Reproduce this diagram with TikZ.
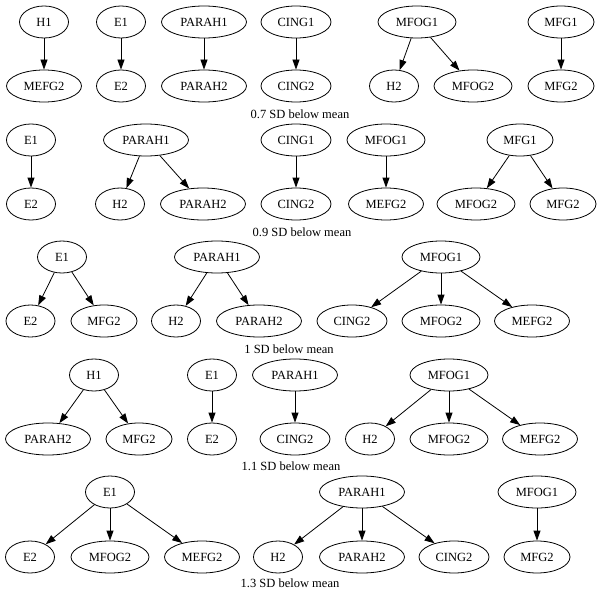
\documentclass[tikz,border=0pt]{standalone}
\usepackage{fontspec}
\setmainfont{Liberation Serif}
\usetikzlibrary{arrows.meta,shapes.geometric}
\begin{document}
\begin{tikzpicture}[x=1pt,y=-1pt,
  gv/.style={ellipse,draw,line width=0.8pt,minimum height=32pt,inner sep=0pt,font=\fontsize{12.5}{14}\selectfont},
  wS/.style={gv,minimum width=49pt},
  wMFG/.style={gv,minimum width=66pt},
  wCING/.style={gv,minimum width=70pt},
  wMEFG/.style={gv,minimum width=75pt},
  wMFOG/.style={gv,minimum width=78pt},
  wPARAH/.style={gv,minimum width=85pt},
  arr/.style={draw,line width=0.8pt,-{Triangle[length=10pt,width=7pt]}},
  lbl/.style={inner sep=0pt,font=\fontsize{12.5}{14}\selectfont}
]
\useasboundingbox (0,0) rectangle (603,594);

% ---------- Row 1: 0.7 SD ----------
\node[wS]     (a1) at (44,22)  {H1};
\node[wMEFG]  (a2) at (44,86)  {MEFG2};
\node[wS]     (a3) at (121,22) {E1};
\node[wS]     (a4) at (121,86) {E2};
\node[wPARAH] (a5) at (204,22) {PARAH1};
\node[wPARAH] (a6) at (204,86) {PARAH2};
\node[wCING]  (a7) at (296,22) {CING1};
\node[wCING]  (a8) at (296,86) {CING2};
\node[wMFOG]  (a9) at (417,22) {MFOG1};
\node[wS]     (a10) at (394,86) {H2};
\node[wMFOG]  (a11) at (473,86) {MFOG2};
\node[wMFG]   (a12) at (561,22) {MFG1};
\node[wMFG]   (a13) at (561,86) {MFG2};
\draw[arr] (a1) -- (a2);
\draw[arr] (a3) -- (a4);
\draw[arr] (a5) -- (a6);
\draw[arr] (a7) -- (a8);
\draw[arr] (a9) -- (a10);
\draw[arr] (a9) -- (a11);
\draw[arr] (a12) -- (a13);
\node[lbl] (la) at (300,114) {0.7 SD below mean};

% ---------- Row 2: 0.9 SD ----------
\node[wS]     (b1) at (31,140)  {E1};
\node[wS]     (b2) at (31,204)  {E2};
\node[wPARAH] (b3) at (146,140) {PARAH1};
\node[wS]     (b4) at (120,204) {H2};
\node[wPARAH] (b5) at (203,204) {PARAH2};
\node[wCING]  (b6) at (296,140) {CING1};
\node[wCING]  (b7) at (296,204) {CING2};
\node[wMFOG]  (b8) at (386,140) {MFOG1};
\node[wMEFG]  (b9) at (386,204) {MEFG2};
\node[wMFG]   (b10) at (520,140) {MFG1};
\node[wMFOG]  (b11) at (476,204) {MFOG2};
\node[wMFG]   (b12) at (563,204) {MFG2};
\draw[arr] (b1) -- (b2);
\draw[arr] (b3) -- (b4);
\draw[arr] (b3) -- (b5);
\draw[arr] (b6) -- (b7);
\draw[arr] (b8) -- (b9);
\draw[arr] (b10) -- (b11);
\draw[arr] (b10) -- (b12);
\node[lbl] (lb) at (302,232) {0.9 SD below mean};

% ---------- Row 3: 1 SD ----------
\node[wS]     (c1) at (62,257)   {E1};
\node[wS]     (c2) at (30.5,321) {E2};
\node[wMFG]   (c3) at (104,321)  {MFG2};
\node[wPARAH] (c4) at (217,257)  {PARAH1};
\node[wS]     (c5) at (176,321)  {H2};
\node[wPARAH] (c6) at (259,321)  {PARAH2};
\node[wMFOG]  (c7) at (441,257)  {MFOG1};
\node[wCING]  (c8) at (352,321)  {CING2};
\node[wMFOG]  (c9) at (441,321)  {MFOG2};
\node[wMEFG]  (c10) at (532,321) {MEFG2};
\draw[arr] (c1) -- (c2);
\draw[arr] (c1) -- (c3);
\draw[arr] (c4) -- (c5);
\draw[arr] (c4) -- (c6);
\draw[arr] (c7) -- (c8);
\draw[arr] (c7) -- (c9);
\draw[arr] (c7) -- (c10);
\node[lbl] (lc) at (289,349) {1 SD below mean};

% ---------- Row 4: 1.1 SD ----------
\node[wS]     (d1) at (94,375)  {H1};
\node[wPARAH] (d2) at (48,439)  {PARAH2};
\node[wMFG]   (d3) at (139,439) {MFG2};
\node[wS]     (d4) at (212,375) {E1};
\node[wS]     (d5) at (212,439) {E2};
\node[wPARAH] (d6) at (295,375) {PARAH1};
\node[wCING]  (d7) at (295,439) {CING2};
\node[wMFOG]  (d8) at (449,375) {MFOG1};
\node[wS]     (d9) at (370,439) {H2};
\node[wMFOG]  (d10) at (449,439) {MFOG2};
\node[wMEFG]  (d11) at (540,439) {MEFG2};
\draw[arr] (d1) -- (d2);
\draw[arr] (d1) -- (d3);
\draw[arr] (d4) -- (d5);
\draw[arr] (d6) -- (d7);
\draw[arr] (d8) -- (d9);
\draw[arr] (d8) -- (d10);
\draw[arr] (d8) -- (d11);
\node[lbl] (ld) at (291,466) {1.1 SD below mean};

% ---------- Row 5: 1.3 SD ----------
\node[wS]     (e1) at (110,492) {E1};
\node[wS]     (e2) at (30,557)  {E2};
\node[wMFOG]  (e3) at (110,557) {MFOG2};
\node[wMEFG]  (e4) at (202,557) {MEFG2};
\node[wPARAH] (e5) at (362,492) {PARAH1};
\node[wS]     (e6) at (278,557) {H2};
\node[wPARAH] (e7) at (362,557) {PARAH2};
\node[wCING]  (e8) at (454,557) {CING2};
\node[wMFOG]  (e9) at (537,492) {MFOG1};
\node[wMFG]   (e10) at (537,557) {MFG2};
\draw[arr] (e1) -- (e2);
\draw[arr] (e1) -- (e3);
\draw[arr] (e1) -- (e4);
\draw[arr] (e5) -- (e6);
\draw[arr] (e5) -- (e7);
\draw[arr] (e5) -- (e8);
\draw[arr] (e9) -- (e10);
\node[lbl] (le) at (290,583) {1.3 SD below mean};
\end{tikzpicture}
\end{document}
